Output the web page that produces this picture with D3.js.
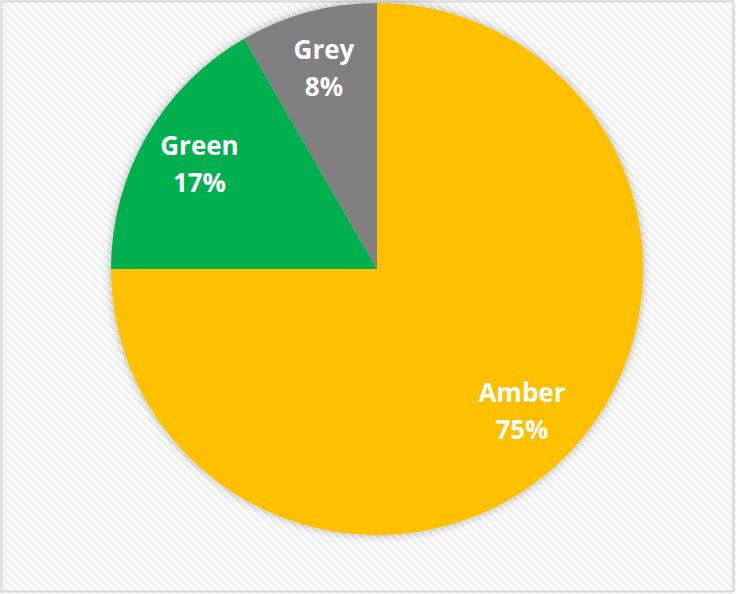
<!DOCTYPE html>
<html><head><meta charset="utf-8">
<script src="https://cdn.jsdelivr.net/npm/d3@7"></script>
<style>html,body{margin:0;padding:0;background:#fff;}svg{display:block;}</style>
</head><body>
<svg id="chart" width="736" height="594"></svg>
<script>
const categories = ["Amber", "Green", "Grey"];
const values = [9, 2, 1];
const colors = ["#FFC000", "#00B050", "#808080"];

const svg = d3.select("#chart");
const W = 736, H = 594;
const defs = svg.append("defs");

// carbon-like diagonal background pattern
const pat = defs.append("pattern").attr("id", "bg").attr("patternUnits", "userSpaceOnUse")
  .attr("width", 8).attr("height", 8);
pat.append("rect").attr("width", 8).attr("height", 8).attr("fill", "#ffffff");
[[0,0],[2,2],[4,4],[6,6],[-2,6],[6,-2]].forEach(([x,y]) => {
  pat.append("rect").attr("x", x).attr("y", y).attr("width", 4).attr("height", 2).attr("fill", "#f1f1f1");
});

const shadow = defs.append("filter").attr("id", "sh").attr("x", "-20%").attr("y", "-20%").attr("width", "140%").attr("height", "140%");
shadow.append("feDropShadow").attr("dx", 0).attr("dy", 0).attr("stdDeviation", 5)
  .attr("flood-color", "#000").attr("flood-opacity", 0.3);

svg.append("rect").attr("x", 0).attr("y", 0).attr("width", W).attr("height", H).attr("fill", "url(#bg)");
svg.append("rect").attr("x", 1.5).attr("y", 1.5).attr("width", 732).attr("height", 590)
  .attr("fill", "none").attr("stroke", "#d9d9d9").attr("stroke-width", 2);

const cx = 377, cy = 269, R = 266;
const total = d3.sum(values);
const pie = d3.pie().sort(null).value(d => d.v);
const data = pie(categories.map((c, i) => ({c, v: values[i], col: colors[i]})));
const arc = d3.arc().innerRadius(0).outerRadius(R);
const labelArc = d3.arc().innerRadius(205).outerRadius(205);

const g = svg.append("g").attr("transform", `translate(${cx},${cy})`);
g.append("g").attr("filter", "url(#sh)").selectAll("path").data(data).join("path")
  .attr("d", arc).attr("fill", d => d.data.col);

const lbl = g.selectAll("text.lbl").data(data).join("text")
  .attr("class", "lbl")
  .attr("transform", d => `translate(${labelArc.centroid(d)})`)
  .attr("text-anchor", "middle")
  .attr("fill", "#fff")
  .style("font-family", "'Open Sans', 'Noto Sans', sans-serif")
  .style("font-weight", "bold")
  .style("font-size", "26px");
lbl.append("tspan").attr("x", 0).attr("y", -12).text(d => d.data.c);
lbl.append("tspan").attr("x", 0).attr("y", 25).text(d => Math.round(d.data.v / total * 100) + "%");
</script>
</body></html>
